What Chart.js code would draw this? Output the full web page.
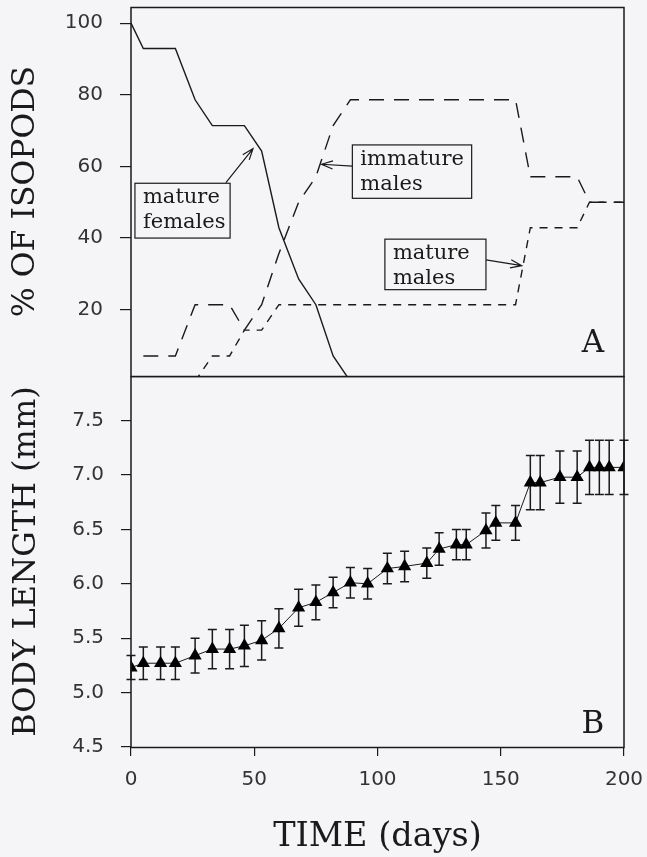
<!DOCTYPE html>
<html>
<head>
<meta charset="utf-8">
<script src="https://cdn.jsdelivr.net/npm/chart.js@4.4.1/dist/chart.umd.min.js"></script>
<style>
  html, body { margin: 0; padding: 0; background: #f5f5f7; }
  #wrap { position: relative; width: 647px; height: 857px; }
  canvas { position: absolute; left: 0; }
  #chartA { top: 0; }
  #chartB { top: 376px; }
</style>
</head>
<body>
<div id="wrap">
  <canvas id="chartA" width="647" height="380"></canvas>
  <canvas id="chartB" width="647" height="481"></canvas>
</div>
<script>
// panel A: % of isopods in each class (n = 14, so steps of ~7.1 %)
const femaleDays = [0, 5, 18, 26, 33, 46, 53, 60, 68, 75, 82, 89];
const femalePct  = [100, 92.9, 92.9, 78.6, 71.4, 71.4, 64.3, 42.9, 28.6, 21.4, 7.1, 0];

const immDays = [5, 18, 26, 40, 46, 53, 60, 68, 75, 82, 89, 156, 162, 181, 186, 200];
const immPct  = [7.1, 7.1, 21.4, 21.4, 14.3, 21.4, 35.7, 50, 57.1, 71.4, 78.6, 78.6, 57.1, 57.1, 50, 50];

const matDays = [26, 33, 40, 46, 53, 60, 156, 162, 181, 186, 200];
const matPct  = [0, 7.1, 7.1, 14.3, 14.3, 21.4, 21.4, 42.9, 42.9, 50, 50];

// panel B: body length (mm), mean +/- error
const bodyDays = [0, 5, 12, 18, 26, 33, 40, 46, 53, 60, 68, 75, 82, 89, 96, 104,
                  111, 120, 125, 132, 136, 144, 148, 156, 162, 166, 174, 181, 186, 190, 194, 200];
const bodyLen  = [5.23, 5.27, 5.27, 5.27, 5.34, 5.40, 5.40, 5.43, 5.48, 5.59, 5.78, 5.83, 5.92, 6.01, 6.00, 6.14,
                  6.16, 6.19, 6.32, 6.36, 6.36, 6.49, 6.56, 6.56, 6.93, 6.93, 6.98, 6.98, 7.07, 7.07, 7.07, 7.07];
const bodyErr  = [0.11, 0.15, 0.15, 0.15, 0.16, 0.18, 0.18, 0.19, 0.18, 0.18, 0.17, 0.16, 0.14, 0.14, 0.14, 0.14,
                  0.14, 0.14, 0.15, 0.14, 0.14, 0.16, 0.16, 0.16, 0.25, 0.25, 0.24, 0.24, 0.25, 0.25, 0.25, 0.25];

// tick labels
const dayTicks = [0, 50, 100, 150, 200];
const pctTicks = [20, 40, 60, 80, 100];
const lenTicks = [4.5, 5.0, 5.5, 6.0, 6.5, 7.0, 7.5];

// labelled boxes on panel A (data units)
const notes = [
  { lines: ['mature', 'females'], x1: 1.6, x2: 40.2, y1: 55.3, y2: 40.0, from: [38.5, 55.5], to: [49.5, 65] },
  { lines: ['immature', 'males'], x1: 89.8, x2: 138.2, y1: 66.0, y2: 51.1, from: [89.8, 60.1], to: [77.3, 60.6] },
  { lines: ['mature', 'males'], x1: 103, x2: 144, y1: 39.7, y2: 25.6, from: [144, 33.9], to: [158.5, 32.3] }
];

const ink = '#1a1a1a';
const tickFont = { family: 'DejaVu Sans', size: 20 };
const serif = 'DejaVu Serif';

function toXY(xs, ys) {
  return xs.map((x, i) => ({ x: x, y: ys[i] }));
}

// fixed axis sizes, no extra room for end labels
function fixY(s) {
  s.width = 131;
  s.paddingTop = 0;
  s.paddingBottom = 0;
}
function fixX(s) {
  s.height = 110;
  s.paddingLeft = 0;
  s.paddingRight = 0;
}

// box round the plot area
const frame = {
  id: 'frame',
  afterDraw(chart) {
    const a = chart.chartArea;
    const ctx = chart.ctx;
    ctx.save();
    ctx.strokeStyle = ink;
    ctx.lineWidth = 1.5;
    ctx.strokeRect(a.left, a.top + 0.5, a.right - a.left, a.bottom - a.top);
    ctx.restore();
  }
};

function arrow(ctx, x1, y1, x2, y2) {
  const ang = Math.atan2(y2 - y1, x2 - x1);
  ctx.beginPath();
  ctx.moveTo(x1, y1);
  ctx.lineTo(x2, y2);
  ctx.moveTo(x2 - 12 * Math.cos(ang - 0.35), y2 - 12 * Math.sin(ang - 0.35));
  ctx.lineTo(x2, y2);
  ctx.lineTo(x2 - 12 * Math.cos(ang + 0.35), y2 - 12 * Math.sin(ang + 0.35));
  ctx.stroke();
}

function panelLetter(chart, text, day, val) {
  const ctx = chart.ctx;
  ctx.save();
  ctx.fillStyle = ink;
  ctx.font = '31px "' + serif + '"';
  ctx.textAlign = 'center';
  ctx.fillText(text, chart.scales.x.getPixelForValue(day), chart.scales.y.getPixelForValue(val));
  ctx.restore();
}

const notesA = {
  id: 'notesA',
  afterDraw(chart) {
    const ctx = chart.ctx;
    const x = chart.scales.x, y = chart.scales.y;
    ctx.save();
    ctx.strokeStyle = ink;
    ctx.fillStyle = ink;
    ctx.lineWidth = 1.2;
    ctx.font = '21px "' + serif + '"';
    notes.forEach(n => {
      const l = x.getPixelForValue(n.x1), r = x.getPixelForValue(n.x2);
      const t = y.getPixelForValue(n.y1), b = y.getPixelForValue(n.y2);
      ctx.strokeRect(l, t, r - l, b - t);
      ctx.fillText(n.lines[0], l + 8, t + 20);
      ctx.fillText(n.lines[1], l + 8, t + 45);
      arrow(ctx, x.getPixelForValue(n.from[0]), y.getPixelForValue(n.from[1]),
                 x.getPixelForValue(n.to[0]), y.getPixelForValue(n.to[1]));
    });
    ctx.restore();
    panelLetter(chart, 'A', 187.4, 8.3);
  }
};

// vertical error bars with caps, under the triangles
const errorBars = {
  id: 'errorBars',
  beforeDatasetsDraw(chart) {
    const ctx = chart.ctx;
    const x = chart.scales.x, y = chart.scales.y;
    ctx.save();
    ctx.strokeStyle = ink;
    ctx.lineWidth = 1.5;
    bodyDays.forEach((d, i) => {
      const px = x.getPixelForValue(d);
      const hi = y.getPixelForValue(bodyLen[i] + bodyErr[i]);
      const lo = y.getPixelForValue(bodyLen[i] - bodyErr[i]);
      ctx.beginPath();
      ctx.moveTo(px, hi); ctx.lineTo(px, lo);
      ctx.moveTo(px - 4.5, hi); ctx.lineTo(px + 4.5, hi);
      ctx.moveTo(px - 4.5, lo); ctx.lineTo(px + 4.5, lo);
      ctx.stroke();
    });
    ctx.restore();
  },
  afterDraw(chart) {
    panelLetter(chart, 'B', 187.4, 4.63);
  }
};

const lineStyle = { borderColor: ink, borderWidth: 1.4, pointRadius: 0, tension: 0, fill: false };

const chartA = new Chart(document.getElementById('chartA'), {
  type: 'line',
  data: {
    datasets: [
      Object.assign({ label: 'mature females', data: toXY(femaleDays, femalePct) }, lineStyle),
      Object.assign({ label: 'immature males', data: toXY(immDays, immPct), borderDash: [15, 10] }, lineStyle),
      Object.assign({ label: 'mature males', data: toXY(matDays, matPct), borderDash: [8, 7] }, lineStyle)
    ]
  },
  options: {
    responsive: false,
    animation: false,
    layout: { autoPadding: false, padding: { top: 7, right: 23, bottom: 4, left: 0 } },
    plugins: { legend: { display: false }, tooltip: { enabled: false } },
    scales: {
      x: { type: 'linear', min: 0, max: 200, display: false },
      y: {
        min: 1.5, max: 104.5,
        afterFit: fixY,
        afterBuildTicks: s => { s.ticks = pctTicks.map(v => ({ value: v })); },
        grid: { drawOnChartArea: false, tickLength: 11, color: ink, lineWidth: 1.2 },
        border: { display: false },
        ticks: { padding: 17, color: '#333', font: tickFont },
        title: { display: true, text: '% OF ISOPODS', color: ink, font: { family: serif, size: 31.5 }, padding: { top: 7, bottom: 0 } }
      }
    }
  },
  plugins: [frame, notesA]
});

const chartB = new Chart(document.getElementById('chartB'), {
  type: 'line',
  data: {
    datasets: [{
      label: 'body length',
      data: toXY(bodyDays, bodyLen),
      borderColor: ink,
      borderWidth: 1,
      backgroundColor: '#000',
      pointStyle: 'triangle',
      pointRadius: 7.6,
      pointBorderWidth: 0,
      tension: 0
    }]
  },
  options: {
    responsive: false,
    animation: false,
    layout: { autoPadding: false, padding: { top: 0, right: 23, bottom: 0, left: 0 } },
    plugins: { legend: { display: false }, tooltip: { enabled: false } },
    scales: {
      x: {
        type: 'linear', min: 0, max: 200,
        afterFit: fixX,
        afterBuildTicks: s => { s.ticks = dayTicks.map(v => ({ value: v })); },
        grid: { drawOnChartArea: false, tickLength: 9, color: ink, lineWidth: 1.2 },
        border: { display: false },
        ticks: { padding: 12, color: '#333', font: tickFont, maxRotation: 0 },
        title: { display: true, text: 'TIME (days)', color: ink, font: { family: serif, size: 33.5 }, padding: { top: 0, bottom: 0 } }
      },
      y: {
        min: 4.5, max: 7.91,
        afterFit: fixY,
        afterBuildTicks: s => { s.ticks = lenTicks.map(v => ({ value: v })); },
        grid: { drawOnChartArea: false, tickLength: 10, color: ink, lineWidth: 1.2 },
        border: { display: false },
        ticks: { padding: 17, color: '#333', font: tickFont, callback: v => v.toFixed(1) },
        title: { display: true, text: 'BODY LENGTH (mm)', color: ink, font: { family: serif, size: 32 }, padding: { top: 7, bottom: 0 } }
      }
    }
  },
  plugins: [frame, errorBars]
});
</script>
</body>
</html>
